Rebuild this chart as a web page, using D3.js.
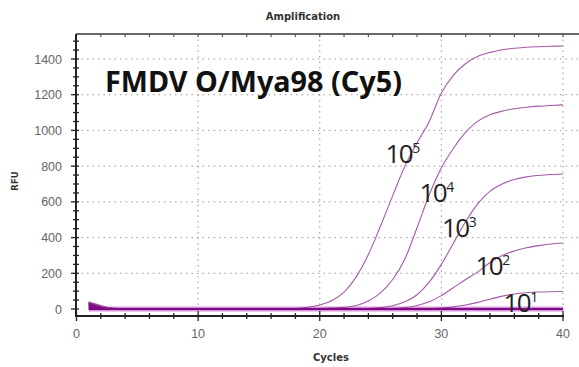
<!DOCTYPE html>
<html><head><meta charset="utf-8">
<script src="https://cdn.jsdelivr.net/npm/d3@7"></script>
<style>body{margin:0;background:#fff;}svg{display:block;}</style>
</head><body>
<script>
// ---- data ----
const cycles = d3.range(1, 41);
const s1e5 = [40,20,3,0,0,0,0,0,0,0,0,0,0,0,0,0,0,3,10,22,48,95,180,305,465,635,800,930,1050,1210,1310,1375,1415,1437,1452,1460,1466,1469,1471,1473];
const s1e4 = [30,15,2,0,0,0,0,0,0,0,0,0,0,0,0,0,0,0,0,3,5,9,20,45,90,165,280,455,640,790,900,990,1052,1088,1108,1121,1130,1136,1140,1143];
const s1e3 = [22,10,1,0,0,0,0,0,0,0,0,0,0,0,0,0,0,0,0,0,0,0,1,3,8,18,40,80,150,250,370,490,590,660,700,725,740,748,753,756];
const s1e2 = [15,6,0,0,0,0,0,0,0,0,0,0,0,0,0,0,0,0,0,0,0,0,0,0,1,3,8,20,40,75,120,165,208,260,300,325,343,355,364,370];
const s1e1 = [10,3,0,0,0,0,0,0,0,0,0,0,0,0,0,0,0,0,0,0,0,0,0,0,0,0,0,0,2,5,12,22,37,55,72,84,91,95,97,98];
const neg1 = [35,14,2,0,0,0,0,0,0,0,0,0,0,0,0,0,0,0,0,0,0,0,0,0,0,0,0,0,0,0,0,0,0,0,0,0,0,0,0,0];
const neg2 = [25,8,0,0,0,0,0,0,0,0,0,0,0,0,0,0,0,0,0,0,0,0,0,0,0,0,0,0,0,0,0,0,0,0,0,0,0,0,0,0];
const seriesExp = ["5","4","3","2","1"];
const labelCycle = [25.4, 28.2, 30.05, 32.8, 35.1];
const labelRFU = [818, 600, 403, 190, -17];
const yTicks = [0,200,400,600,800,1000,1200,1400];
const xTicks = [0,10,20,30,40];

// ---- layout ----
const W = 579, H = 367;
const svg = d3.select("body").append("svg").attr("width", W).attr("height", H);
const x = d3.scaleLinear().domain([0, 40]).range([76.5, 563]);
const y = d3.scaleLinear().domain([0, 1400]).range([309, 59]);
const yBottom = 316, yTop = 34, xLeft = 76;

// grid
const g = svg.append("g");
g.selectAll(".hg").data(yTicks.filter(d => d > 0)).join("line")
  .attr("x1", xLeft).attr("x2", W).attr("y1", d => y(d)).attr("y2", d => y(d))
  .attr("stroke", "#9a9a9a").attr("stroke-width", 1).attr("stroke-dasharray", "1.5,4");
g.selectAll(".vg").data(xTicks.filter(d => d > 0)).join("line")
  .attr("x1", d => x(d)).attr("x2", d => x(d)).attr("y1", yTop).attr("y2", yBottom)
  .attr("stroke", "#9a9a9a").attr("stroke-width", 1).attr("stroke-dasharray", "1.5,4");

// top frame
svg.append("line").attr("x1", xLeft).attr("x2", W).attr("y1", yTop).attr("y2", yTop)
  .attr("stroke", "#6a6a6a").attr("stroke-width", 2);
svg.selectAll(".tt").data(d3.range(2, 42, 2)).join("line")
  .attr("x1", d => x(d)).attr("x2", d => x(d)).attr("y1", yTop).attr("y2", yTop + 3)
  .attr("stroke", "#555").attr("stroke-width", 1.2);

// curves
const line = d3.line().x((d, i) => x(cycles[i])).y(d => y(d)).curve(d3.curveMonotoneX);
const base = svg.append("g");
base.append("line").attr("x1", x(1)).attr("x2", x(40)).attr("y1", y(0)).attr("y2", y(0))
  .attr("stroke", "#f2c6f2").attr("stroke-width", 6);
[neg1, neg2].forEach(s => base.append("path").datum(s).attr("d", line)
  .attr("fill", "none").attr("stroke", "#7a1080").attr("stroke-width", 2));
const series = [s1e5, s1e4, s1e3, s1e2, s1e1];
series.forEach(s => svg.append("path").datum(s).attr("d", line)
  .attr("fill", "none").attr("stroke", "#a35aa8").attr("stroke-width", 1.1));
svg.append("path").datum(neg1).attr("d", d3.area().x((d, i) => x(cycles[i])).y0(y(0)).y1(d => y(d)).curve(d3.curveMonotoneX).defined((d,i)=>i<4))
  .attr("fill", "#7a1080");
svg.append("line").attr("x1", x(1)).attr("x2", x(40)).attr("y1", y(0)).attr("y2", y(0))
  .attr("stroke", "#800a86").attr("stroke-width", 2.5);

// axes
const yAxis = svg.append("g");
yAxis.append("line").attr("x1", xLeft).attr("x2", xLeft).attr("y1", yTop).attr("y2", yBottom)
  .attr("stroke", "#222").attr("stroke-width", 2);
yAxis.selectAll(".ym").data(d3.range(0, 1550, 50)).join("line")
  .attr("x1", d => d % 200 === 0 ? xLeft - 5 : xLeft - 3).attr("x2", d => xLeft + 3)
  .attr("y1", d => y(d)).attr("y2", d => y(d)).attr("stroke", "#222").attr("stroke-width", 1.3);
yAxis.selectAll("text").data(yTicks).join("text")
  .attr("x", 62).attr("y", d => y(d)).attr("dy", "0.36em").attr("text-anchor", "end")
  .attr("font-family", "Liberation Sans, Arial").attr("font-size", 12.5).attr("fill", "#666")
  .text(d => d);

const xAxis = svg.append("g");
xAxis.append("line").attr("x1", xLeft - 1).attr("x2", x(40) + 1).attr("y1", yBottom).attr("y2", yBottom)
  .attr("stroke", "#222").attr("stroke-width", 2);
xAxis.selectAll(".xm").data(d3.range(0, 42, 2)).join("line")
  .attr("x1", d => x(d)).attr("x2", d => x(d))
  .attr("y1", d => d % 10 === 0 ? yBottom - 5 : yBottom - 3).attr("y2", d => d % 10 === 0 ? yBottom + 5 : yBottom + 3)
  .attr("stroke", "#222").attr("stroke-width", 1.3);
xAxis.selectAll("text").data(xTicks).join("text")
  .attr("x", d => x(d)).attr("y", 338).attr("text-anchor", "middle")
  .attr("font-family", "Liberation Sans, Arial").attr("font-size", 12.5).attr("fill", "#666")
  .text(d => d);

// titles
svg.append("text").attr("x", 303).attr("y", 20).attr("text-anchor", "middle")
  .attr("font-family", "DejaVu Sans, Verdana").attr("font-weight", "bold").attr("font-size", 10).attr("fill", "#333")
  .text("Amplification");
svg.append("text").attr("x", 331).attr("y", 361).attr("text-anchor", "middle")
  .attr("font-family", "DejaVu Sans, Verdana").attr("font-weight", "bold").attr("font-size", 10).attr("fill", "#333")
  .text("Cycles");
svg.append("text").attr("transform", "translate(18,181) rotate(-90)").attr("text-anchor", "middle")
  .attr("font-family", "DejaVu Sans, Verdana").attr("font-weight", "bold").attr("font-size", 8.5).attr("fill", "#333")
  .text("RFU");

svg.append("text").attr("x", 105).attr("y", 92)
  .attr("font-family", "Noto Sans, Open Sans").attr("font-weight", "bold").attr("font-size", 28)
  .attr("textLength", 297).attr("lengthAdjust", "spacingAndGlyphs").attr("fill", "#111")
  .text("FMDV O/Mya98 (Cy5)");

// series labels
seriesExp.forEach((e, i) => {
  const t = svg.append("text").attr("x", x(labelCycle[i])).attr("y", y(labelRFU[i]))
    .attr("font-family", "Open Sans, Noto Sans").attr("font-size", 26).attr("fill", "#222");
  t.append("tspan").text("10").attr("letter-spacing", -1.5);
  t.append("tspan").text(e).attr("font-size", 14).attr("dy", -10);
});
</script>
</body></html>
